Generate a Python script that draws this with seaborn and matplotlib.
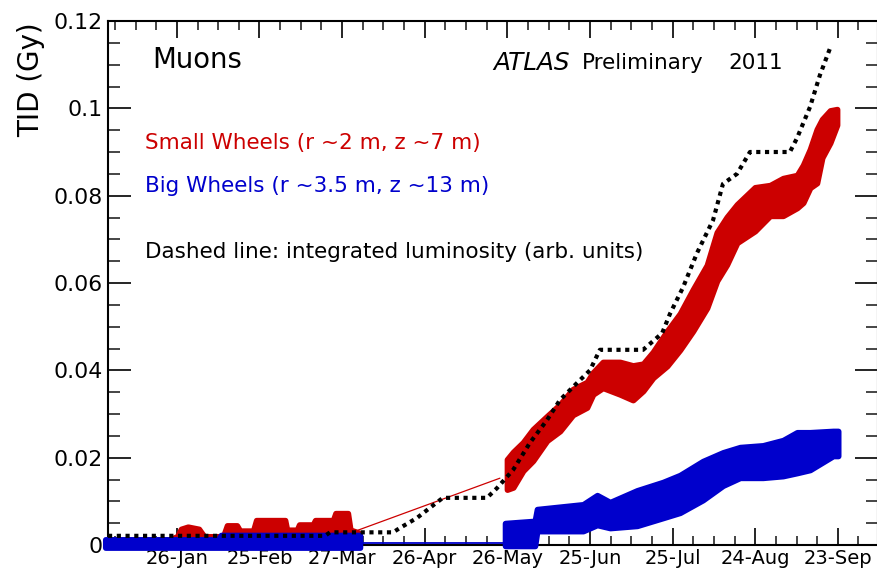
import numpy as np
import pandas as pd
import matplotlib
matplotlib.use("Agg")
import matplotlib.pyplot as plt
import matplotlib.dates as mdates
from matplotlib.ticker import FixedLocator, MultipleLocator
import seaborn as sns

# ---------------- data (days since 2011-01-01, TID in Gy) ----------------
lumi_day = [0, 78.8, 80.6, 103.5, 106.0, 112.2, 119.5, 121.6, 137.6, 141.2, 147.1,
            153.2, 159.4, 164.1, 170.3, 175.0, 178.6, 194.3, 201.2, 204.1, 208.8,
            213.9, 219.7, 223.3, 228.4, 233.1, 247.6, 250.2, 254.9, 258.5, 262.2]
lumi_val = [0.0021, 0.0021, 0.0029, 0.0029, 0.0039, 0.0062, 0.0098, 0.0108, 0.0108,
            0.0130, 0.0172, 0.0234, 0.0286, 0.0332, 0.0371, 0.0400, 0.0447, 0.0447,
            0.0485, 0.0530, 0.0590, 0.0669, 0.0744, 0.0827, 0.0850, 0.0900, 0.0900,
            0.0932, 0.1003, 0.1076, 0.1138]

red_early_day = [0, 22, 25.1, 26.5, 29, 33, 34.9, 41.8, 43.2, 46.8, 47.9, 52.7, 53.8,
                 64.3, 65.0, 68.6, 69.4, 74.4, 75.2, 81.7, 82.6, 87.1, 88.0, 90.8]
red_early_hi = [0.0012, 0.0012, 0.0020, 0.0037, 0.0042, 0.0037, 0.0020, 0.0020, 0.0045,
                0.0045, 0.0033, 0.0033, 0.0057, 0.0057, 0.0035, 0.0035, 0.0047, 0.0047,
                0.0057, 0.0057, 0.0073, 0.0073, 0.0035, 0.0029]

red_gap_day = [90.8, 142.3]
red_gap_val = [0.0034, 0.0153]

red_day = [144.9, 147.1, 150.7, 154.3, 159.4, 164.1, 168.8, 173.9, 176.1, 179.7, 185.9,
           190.6, 194.3, 197.9, 203.0, 207.7, 212.4, 217.5, 221.1, 224.7, 228.4, 234.9,
           240.4, 245.1, 250.2, 252.4, 254.9, 257.4, 259.3, 262.2, 264.7]
red_lo = [0.0127, 0.0132, 0.0170, 0.0193, 0.0239, 0.0261, 0.0298, 0.0315, 0.0345, 0.0360,
          0.0345, 0.0332, 0.0353, 0.0383, 0.0410, 0.0447, 0.0490, 0.0543, 0.0605, 0.0642,
          0.0692, 0.0719, 0.0754, 0.0754, 0.0772, 0.0784, 0.0818, 0.0829, 0.0887, 0.0921,
          0.0962]
red_hi = [0.0196, 0.0213, 0.0235, 0.0265, 0.0295, 0.0322, 0.0357, 0.0373, 0.0395, 0.0419,
          0.0419, 0.0411, 0.0415, 0.0442, 0.0490, 0.0530, 0.0585, 0.0641, 0.0716, 0.0751,
          0.0780, 0.0819, 0.0824, 0.0840, 0.0847, 0.0870, 0.0906, 0.0952, 0.0975, 0.0995,
          0.0998]

blue_early_day = [-1, 40, 41, 91.5]
blue_early_lo = [-0.0006, -0.0006, -0.0006, -0.0006]
blue_early_hi = [0.0013, 0.0013, 0.0023, 0.0023]

blue_gap_day = [91.5, 144.2]
blue_gap_val = [0.0005, 0.0005]

blue_day = [144.2, 155.0, 155.8, 172.5, 177.6, 182.3, 192.1, 201.5, 207.7, 216.0, 223.3,
            229.5, 237.8, 245.1, 250.2, 254.9, 263.3, 265.1]
blue_lo = [-0.0002, -0.0002, 0.0032, 0.0032, 0.0046, 0.0039, 0.0044, 0.0062, 0.0074,
           0.0103, 0.0136, 0.0154, 0.0154, 0.0158, 0.0165, 0.0172, 0.0204, 0.0204]
blue_hi = [0.0050, 0.0055, 0.0082, 0.0093, 0.0114, 0.0098, 0.0125, 0.0144, 0.0160,
           0.0192, 0.0212, 0.0224, 0.0228, 0.0240, 0.0258, 0.0258, 0.0261, 0.0261]

tick_dates = ["2011-01-26", "2011-02-25", "2011-03-27", "2011-04-26", "2011-05-26",
              "2011-06-25", "2011-07-25", "2011-08-24", "2011-09-23"]
tick_labels = ["26-Jan", "25-Feb", "27-Mar", "26-Apr", "26-May", "25-Jun", "25-Jul",
               "24-Aug", "23-Sep"]
y_ticks = [0, 0.02, 0.04, 0.06, 0.08, 0.1, 0.12]
y_labels = ["0", "0.02", "0.04", "0.06", "0.08", "0.1", "0.12"]

# ---------------- helpers ----------------
base = pd.Timestamp("2011-01-01")
def to_dt(days):
    return base + pd.to_timedelta(np.asarray(days, dtype=float), unit="D")

RED = "#cc0000"
BLUE = "#0000cc"

sns.set_style("ticks")
plt.rcParams["font.family"] = ["DejaVu Sans"]
plt.rcParams["text.color"] = "black"

W, H = 877, 569
fig = plt.figure(figsize=(W / 100, H / 100), dpi=100)
L, R, T, B = 108, 878, 21, 545
ax = fig.add_axes([L / W, 1 - B / H, (R - L) / W, (B - T) / H])

def band(days, lo, hi, color, z, lw=4.2, clip=True):
    xs = to_dt(days)
    poly = ax.fill_between(xs, lo, hi, color=color, lw=lw, edgecolor=color,
                           zorder=z, clip_on=clip)
    poly.set_joinstyle("round")
    poly.set_capstyle("round")
    return poly

# red band
band(red_early_day, [0] * len(red_early_day), red_early_hi, RED, 2, lw=4.0)
band(red_day, red_lo, red_hi, RED, 2)
sns.lineplot(x=to_dt(red_gap_day), y=red_gap_val, ax=ax, color=RED, lw=0.9, zorder=2)

# blue band
band(blue_early_day, blue_early_lo, blue_early_hi, BLUE, 3, lw=4.0, clip=False)
band(blue_day, blue_lo, blue_hi, BLUE, 3, clip=False)
sns.lineplot(x=to_dt(blue_gap_day), y=blue_gap_val, ax=ax, color=BLUE, lw=1.3, zorder=3)

# luminosity (dotted)
sns.lineplot(x=to_dt(lumi_day), y=lumi_val, ax=ax, color="black", lw=3.0,
             linestyle=(0, (1, 1.1)), zorder=4)
ax.lines[-1].set_dash_capstyle("butt")

# axes
ax.set_xlim(to_dt([0])[0], to_dt([(R - L) / 2.754])[0])
ax.set_ylim(0, 0.12)
major = [mdates.date2num(pd.Timestamp(d)) for d in tick_dates]
step = (major[1] - major[0]) / 4.0
minor = np.arange(major[0] - 4 * step, major[-1] + 5 * step, step)
ax.xaxis.set_major_locator(FixedLocator(major))
ax.xaxis.set_minor_locator(FixedLocator(minor))
ax.set_xticklabels(tick_labels)
ax.set_yticks(y_ticks)
ax.set_yticklabels(y_labels)
ax.yaxis.set_minor_locator(MultipleLocator(0.005))
ax.set_xlabel("")
ax.set_ylabel("")

for s in ax.spines.values():
    s.set_linewidth(1.5)
    s.set_color("black")
ax.tick_params(axis="y", which="major", direction="in", length=16.5, width=1.2,
               left=True, right=True, labelsize=15.8, pad=4, colors="black")
ax.tick_params(axis="y", which="minor", direction="in", length=8.5, width=1.2,
               left=True, right=True)
ax.tick_params(axis="x", which="major", direction="in", length=12, width=1.2,
               top=True, bottom=True, labelsize=14, pad=3, colors="black")
ax.tick_params(axis="x", which="minor", direction="in", length=6.5, width=1.2,
               top=True, bottom=True)

# texts
def ftext(x, y, s, **kw):
    fig.text(x / W, 1 - y / H, s, color=kw.pop("color", "black"), **kw)

ftext(31, 80, "TID (Gy)", rotation=90, ha="center", va="center", fontsize=20)
ftext(152, 60, "Muons", ha="left", va="center", fontsize=19.8)
ftext(145, 143, "Small Wheels (r ~2 m, z ~7 m)", ha="left", va="center",
      fontsize=15.5, color=RED)
ftext(145, 186, "Big Wheels (r ~3.5 m, z ~13 m)", ha="left", va="center",
      fontsize=15.5, color=BLUE)
ftext(145, 252, "Dashed line: integrated luminosity (arb. units)", ha="left",
      va="center", fontsize=15.5)
ftext(493, 63, "ATLAS", ha="left", va="center", fontsize=17.8, style="italic")
ftext(582, 63, "Preliminary", ha="left", va="center", fontsize=15.5)
ftext(728, 63, "2011", ha="left", va="center", fontsize=15.5)

fig.savefig("out.png", dpi=100)
